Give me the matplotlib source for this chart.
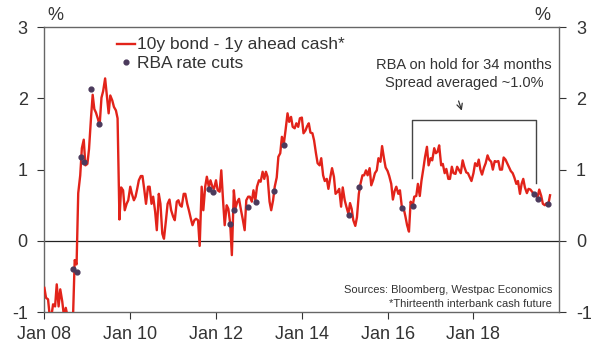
import numpy as np
import pandas as pd
import matplotlib
matplotlib.use('Agg')
import matplotlib.pyplot as plt
from matplotlib.lines import Line2D

plt.rcParams['font.family'] = ['Liberation Sans', 'DejaVu Sans']
plt.rcParams['axes.unicode_minus'] = False

# 10y bond minus 1y ahead cash, semi-monthly readings (1st and 15th), %
spread_2008 = [-0.66, -0.80, -0.82, -1.05, -1.05, -0.89, -0.92, -0.61, -0.92, -0.68, -0.85, -1.05,
               -0.94, -1.05, -1.10, -1.10, -1.05, -0.27, -0.33, 0.67, 0.92, 1.30, 1.42, 1.06]
spread_2009 = [1.08, 1.29, 1.73, 2.05, 1.85, 1.80, 1.71, 1.62, 2.01, 2.10, 2.28, 2.05,
               1.79, 2.04, 1.97, 1.88, 1.83, 1.72, 0.30, 0.75, 0.71, 0.43, 0.52, 0.57]
spread_2010 = [0.76, 0.66, 0.57, 0.62, 0.73, 0.85, 0.91, 0.91, 0.71, 0.52, 0.76, 0.76,
               0.52, 0.62, 0.41, 0.15, 0.66, 0.52, 0.10, 0.03, 0.29, 0.52, 0.58, 0.43]
spread_2011 = [0.34, 0.29, 0.55, 0.57, 0.50, 0.48, 0.66, 0.66, 0.52, 0.43, 0.31, 0.22,
               0.29, 0.31, 0.29, -0.07, 0.76, 0.43, 0.76, 0.90, 0.76, 0.85, 0.76, 0.73]
spread_2012 = [0.85, 0.71, 0.69, 0.99, 0.57, 0.22, 0.50, 0.45, 0.24, -0.20, 0.71, 0.46,
               0.55, 0.59, 0.43, 0.31, 0.15, 0.57, 0.62, 0.62, 0.55, 0.71, 0.57, 0.76]
spread_2013 = [0.85, 0.83, 0.97, 0.87, 0.97, 0.90, 0.55, 0.43, 0.57, 0.76, 0.89, 1.18,
               1.23, 1.46, 1.37, 1.55, 1.79, 1.67, 1.74, 1.60, 1.58, 1.65, 1.60, 1.72]
spread_2014 = [1.73, 1.51, 1.55, 1.61, 1.65, 1.52, 1.51, 1.41, 1.23, 1.09, 1.06, 1.16,
               0.92, 0.84, 0.87, 0.73, 0.90, 1.02, 0.90, 0.66, 0.69, 0.73, 0.48, 0.75]
spread_2015 = [0.57, 0.48, 0.38, 0.53, 0.45, 0.29, 0.21, 0.33, 0.66, 0.80, 0.92, 0.92,
               0.99, 0.92, 1.02, 0.78, 0.86, 0.95, 0.99, 1.16, 1.11, 1.33, 1.16, 1.03]
spread_2016 = [0.98, 0.91, 0.80, 0.58, 0.70, 0.76, 0.66, 0.71, 0.48, 0.47, 0.34, 0.22,
               0.13, 0.55, 0.49, 0.62, 0.63, 0.80, 0.63, 0.84, 1.02, 1.18, 1.32, 1.06]
spread_2017 = [1.16, 1.13, 1.30, 1.23, 1.25, 1.34, 1.06, 1.08, 0.95, 1.01, 0.87, 0.87,
               1.04, 0.95, 0.94, 1.04, 0.99, 0.95, 1.13, 1.04, 0.96, 0.95, 0.89, 0.84]
spread_2018 = [0.95, 1.09, 1.05, 1.14, 1.00, 0.93, 1.03, 1.09, 1.20, 1.14, 1.11, 1.00,
               1.12, 1.11, 1.12, 1.00, 1.00, 1.17, 1.14, 1.09, 1.03, 0.98, 0.95, 0.89]
spread_2019 = [0.80, 0.84, 0.66, 0.80, 0.87, 0.75, 0.67, 0.73, 0.72, 0.69, 0.65, 0.65,
               0.61, 0.72, 0.63, 0.52, 0.50, 0.53, 0.52, 0.64]

spread = (spread_2008 + spread_2009 + spread_2010 + spread_2011 + spread_2012 + spread_2013
          + spread_2014 + spread_2015 + spread_2016 + spread_2017 + spread_2018 + spread_2019)
dates = pd.date_range('2008-01-01', periods=len(spread), freq='SMS')

# RBA rate cut dates and spread on the day
cut_dates = pd.to_datetime(['2008-09-02', '2008-10-07', '2008-11-04', '2008-12-02', '2009-02-03',
                            '2009-04-07', '2011-11-01', '2011-12-06', '2012-05-01', '2012-06-05',
                            '2012-10-02', '2012-12-04', '2013-05-07', '2013-08-06', '2015-02-03',
                            '2015-05-05', '2016-05-03', '2016-08-02', '2019-06-04', '2019-07-02',
                            '2019-10-01'])
cut_values = [-0.39, -0.44, 1.18, 1.10, 2.13, 1.64, 0.73, 0.68, 0.23, 0.43,
              0.47, 0.55, 0.70, 1.35, 0.36, 0.76, 0.46, 0.49, 0.66, 0.59, 0.52]

tick_dates = pd.to_datetime(['2008-01-01', '2010-01-01', '2012-01-01', '2014-01-01',
                             '2016-01-01', '2018-01-01'])
tick_labels = ['Jan 08', 'Jan 10', 'Jan 12', 'Jan 14', 'Jan 16', 'Jan 18']

red = '#e2231a'
dot = '#4b3a5c'
txt = '#333333'

fig = plt.figure(figsize=(6, 3.43), dpi=100)
ax = fig.add_axes([0.074, 0.09, 0.858, 0.831])

ax.axhline(0, color='#222222', lw=0.9, zorder=1)
ax.plot(dates, spread, color=red, lw=1.7, zorder=3)
ax.scatter(cut_dates, cut_values, s=12, color=dot, zorder=4)

ax.set_ylim(-1, 3)
ax.set_xlim(pd.Timestamp('2008-01-01'), pd.Timestamp('2020-01-01'))
ax.set_yticks([-1, 0, 1, 2, 3])
ax.set_xticks(tick_dates)
ax.set_xticklabels(tick_labels)
ax.tick_params(axis='y', left=True, right=True, labelleft=True, labelright=True,
               direction='out', length=5, pad=7, labelsize=13, colors=txt)
ax.tick_params(axis='x', direction='out', length=5, pad=5, labelsize=13, colors=txt)
for s in ax.spines.values():
    s.set_color('#666666')
    s.set_linewidth(1)

# legend, drawn by hand so the rows sit as tight as in the original
ax.add_line(Line2D([0.141, 0.176], [0.940, 0.940], transform=ax.transAxes, color=red, lw=1.7))
ax.text(0.180, 0.940, '10y bond - 1y ahead cash*', transform=ax.transAxes, ha='left',
        va='center', fontsize=12.5, color=txt)
ax.scatter([0.158], [0.877], transform=ax.transAxes, s=12, color=dot, clip_on=False)
ax.text(0.180, 0.874, 'RBA rate cuts', transform=ax.transAxes, ha='left',
        va='center', fontsize=12.5, color=txt)

# bracket for the on-hold period
b0 = pd.Timestamp('2016-07-25')
b1 = pd.Timestamp('2019-06-20')
ax.plot([b0, b0, b1, b1], [0.88, 1.69, 1.69, 0.81], color='#444444', lw=1, zorder=2)
ax.annotate('', xy=(pd.Timestamp('2017-10-01'), 1.79), xytext=(pd.Timestamp('2017-08-20'), 2.0),
            arrowprops=dict(arrowstyle='->', color='#333333', lw=0.9))
ax.text(pd.Timestamp('2017-10-15'), 2.47, 'RBA on hold for 34 months', ha='center', va='center',
        fontsize=10.5, color=txt)
ax.text(pd.Timestamp('2017-10-15'), 2.21, 'Spread averaged ~1.0%', ha='center', va='center',
        fontsize=10.5, color=txt)

ax.text(0.986, 0.077, 'Sources: Bloomberg, Westpac Economics', transform=ax.transAxes,
        ha='right', va='center', fontsize=8, color=txt)
ax.text(0.986, 0.028, '*Thirteenth interbank cash future', transform=ax.transAxes,
        ha='right', va='center', fontsize=8, color=txt)

fig.text(55 / 600, 1 - 16 / 343, '%', ha='center', va='center', fontsize=13, color=txt)
fig.text(542 / 600, 1 - 16 / 343, '%', ha='center', va='center', fontsize=13, color=txt)

fig.savefig('out.png', dpi=100)
